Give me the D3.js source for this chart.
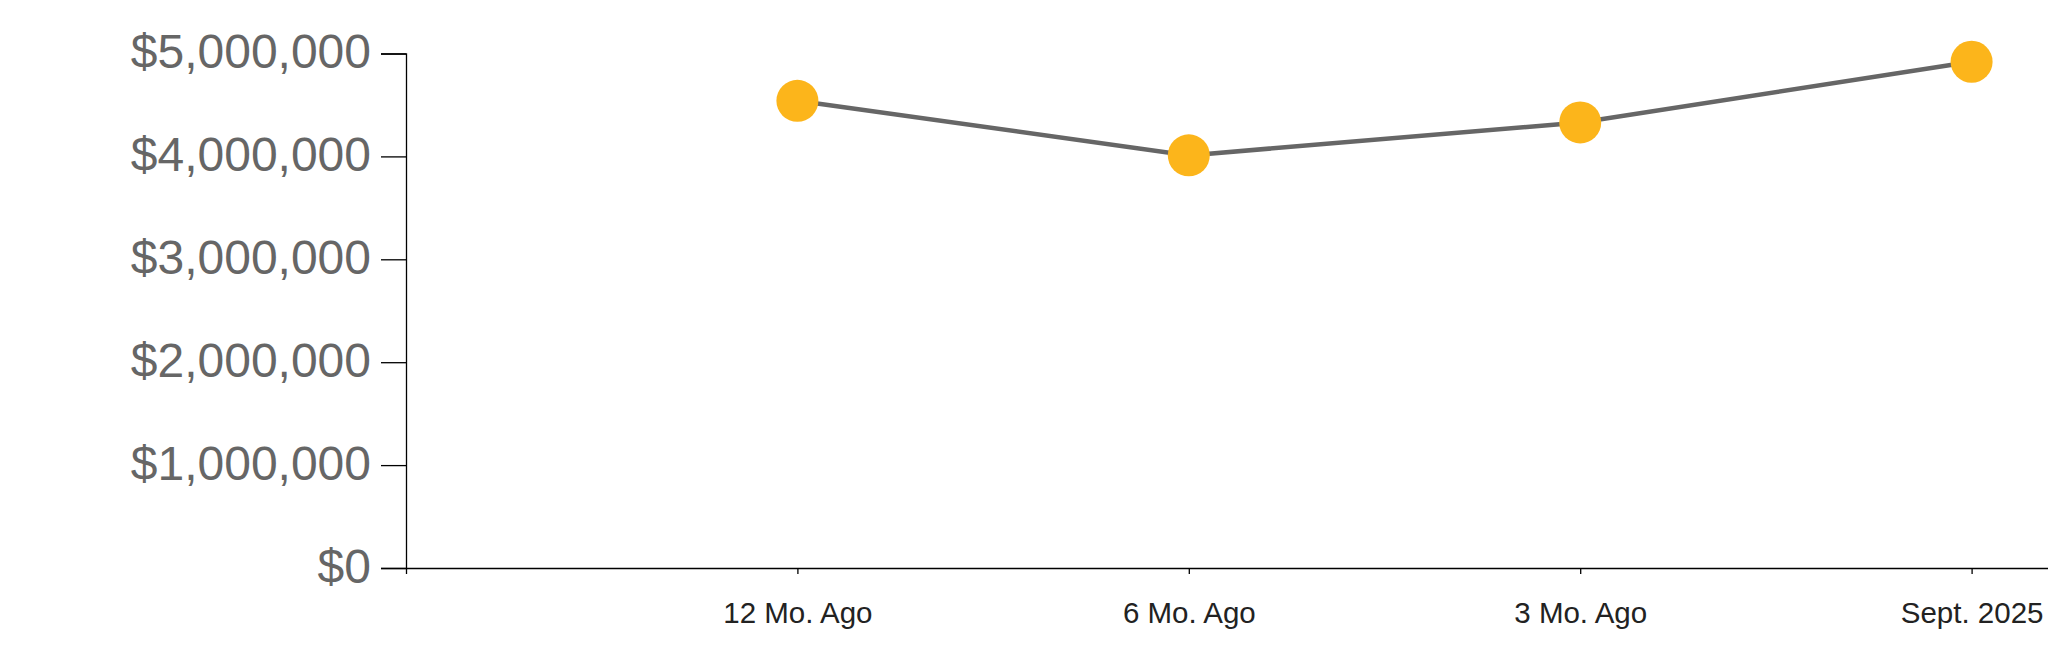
<!DOCTYPE html>
<html>
<head>
<meta charset="utf-8">
<script src="https://cdn.jsdelivr.net/npm/d3@7"></script>
<style>
  html, body { margin: 0; padding: 0; background: #fff; }
  svg { display: block; }
  .y-axis text { font-family: "Liberation Sans", Arial, sans-serif; font-size: 48px; fill: #666; }
  .x-axis text { font-family: "Liberation Sans", Arial, sans-serif; font-size: 29.5px; fill: #222; }
  .domain, .tick line { stroke: #000; stroke-width: 1.3; }
</style>
</head>
<body>
<svg id="chart" width="2048" height="663"></svg>
<script>
const categories = ["12 Mo. Ago", "6 Mo. Ago", "3 Mo. Ago", "Sept. 2025"];
const values = [4540000, 4010000, 4330000, 4920000];
const yTicks = [0, 1000000, 2000000, 3000000, 4000000, 5000000];

const svg = d3.select('#chart');
const plotLeft = 406, plotBottom = 568, plotTop = 53.5;
const step = 391.4;

// slot 0 is the empty first position at the y axis
const x = d3.scaleLinear().domain([0, 5]).range([plotLeft, plotLeft + 5 * step]);
const y = d3.scaleLinear().domain([0, 5000000]).range([plotBottom, plotTop]);

const fmt = d3.format("$,.0f");

const yAxis = svg.append("g")
    .attr("class", "y-axis")
    .attr("transform", "translate(" + plotLeft + ",0)")
    .call(d3.axisLeft(y).tickValues(yTicks).tickFormat(fmt).tickSize(25).tickPadding(10));
yAxis.selectAll("text").attr("dy", "0.3em");

svg.append("g")
    .attr("class", "x-axis")
    .attr("transform", "translate(0," + plotBottom + ")")
    .call(d3.axisBottom(x)
        .tickValues([0, 1, 2, 3, 4])
        .tickFormat(i => i === 0 ? "" : categories[i - 1])
        .tickSize(6).tickSizeOuter(0).tickPadding(28.4));

const pts = categories.map((c, i) => ({ c: c, i: i + 1, v: values[i] }));

svg.append("path")
    .datum(pts)
    .attr("fill", "none")
    .attr("stroke", "#666")
    .attr("stroke-width", 4.5)
    .attr("d", d3.line().x(d => x(d.i)).y(d => y(d.v)));

svg.selectAll(".dot")
    .data(pts)
    .enter().append("circle")
    .attr("class", "dot")
    .attr("cx", d => x(d.i))
    .attr("cy", d => y(d.v))
    .attr("r", 21)
    .attr("fill", "#fcb51b");
</script>
</body>
</html>
